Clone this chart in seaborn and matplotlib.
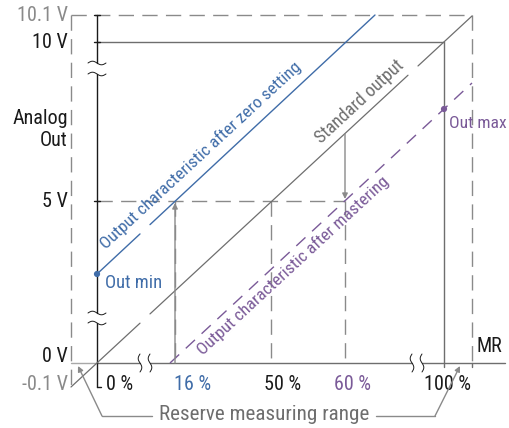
import numpy as np
import pandas as pd
import matplotlib
matplotlib.use("Agg")
import matplotlib.pyplot as plt
import seaborn as sns
from matplotlib import font_manager

# ---- drawing data (schematic coordinates, in pixels of the 509x428 sheet) ----
# vertical axis levels
volt_labels = ['10.1 V', '10 V', '5 V', '0 V', '-0.1 V']
volt_y = [15, 42, 201, 363, 387]
volt_label_y = [15, 42, 201, 356, 384]
volt_colors = ['#8a8a8a', '#1a1a1a', '#1a1a1a', '#1a1a1a', '#8a8a8a']

# horizontal axis (measuring range) marks
pct_labels = ['0 %', '16 %', '50 %', '60 %', '100 %']
pct_x = [97, 175, 271, 345, 444]
pct_label_x = [120, 193, 283, 353, 448]
pct_colors = ['#1a1a1a', '#3f6ca8', '#1a1a1a', '#7a5a98', '#1a1a1a']

x_left, x_right = 71, 472       # reserve range limits
y_top = 15
x_axis_end = 505
x_breaks = [(140, 150), (412, 422)]
y_breaks = [(63, 74), (313, 323)]

# output characteristics: two points each (start, end)
std_x, std_y = [71, 472], [387, 16]
zero_x, zero_y = [97, 375], [274, 15]
mast_x, mast_y = [170, 472], [363, 83]
std_gaps = [(140, 150), (408, 418)]
zero_gaps = [(140, 150)]

out_min = (97, 274)
out_max = (444, 109)

BLUE = '#3f6ca8'
PURPLE = '#7a5a98'
GRAY = '#8a8a8a'
DGRAY = '#6e6e6e'
BLACK = '#1a1a1a'


def pick_font(cands):
    for c in cands:
        try:
            font_manager.findfont(c, fallback_to_default=False)
            return c
        except Exception:
            continue
    return 'DejaVu Sans'


def split_line(xs, ys, gaps):
    # break a straight line into pieces that skip the axis-break bands
    x0, x1 = xs
    y0, y1 = ys
    m = (y1 - y0) / (x1 - x0)
    edges = [x0]
    for a, b in gaps:
        edges += [a, b]
    edges.append(x1)
    segs = []
    for i in range(0, len(edges), 2):
        a, b = edges[i], edges[i + 1]
        segs.append(([a, b], [y0 + m * (a - x0), y0 + m * (b - x0)]))
    return segs


def break_mark(ax, x, y, vertical):
    t = np.linspace(-1, 1, 30)
    w = 1.8 * np.sin(t * np.pi)
    if vertical:
        ax.plot(x + w, y + t * 9, color=BLACK, lw=0.7)
    else:
        ax.plot(x + t * 9, y + w, color=BLACK, lw=0.7)


def main():
    sns.set_theme(style='white')
    font = pick_font(['Liberation Sans Narrow', 'Roboto Condensed', 'Liberation Sans'])
    plt.rcParams['font.family'] = [font, 'DejaVu Sans']

    fig = plt.figure(figsize=(5.09, 4.28), dpi=100)
    ax = fig.add_axes([0, 0, 1, 1])
    ax.set_xlim(0, 509)
    ax.set_ylim(428, 0)
    ax.axis('off')

    dash = dict(color=GRAY, lw=1.0, dashes=(11, 6))

    # reserve range frame (dashed)
    ax.plot([x_left, x_left], [y_top, volt_y[4]], **dash)
    ax.plot([x_left, x_right], [y_top, y_top], **dash)
    ax.plot([x_right, x_right], [y_top, volt_y[3]], **dash)

    # 10 V frame
    ax.plot([pct_x[0], pct_x[4]], [volt_y[1], volt_y[1]], color=DGRAY, lw=1.0)
    ax.plot([pct_x[4], pct_x[4]], [volt_y[1], volt_y[3] + 4], color=DGRAY, lw=1.0)
    ax.plot([x_right, x_right], [volt_y[3], volt_y[3] + 4], color=DGRAY, lw=1.0)

    # 5 V guide lines
    ax.plot([pct_x[0], pct_x[3]], [volt_y[2], volt_y[2]], **dash)
    for xv in pct_x[1:4]:
        ax.plot([xv, xv], [volt_y[2], volt_y[3]], **dash)

    # x axis with breaks (lighter inside the reserve range)
    ax.plot([x_left, pct_x[0]], [volt_y[3], volt_y[3]], color='#a8a8a8', lw=1.0)
    xs = [pct_x[0]] + [v for g in x_breaks for v in g] + [x_axis_end]
    for i in range(0, len(xs), 2):
        ax.plot([xs[i], xs[i + 1]], [volt_y[3], volt_y[3]], color=DGRAY, lw=1.0)
    for a, b in x_breaks:
        break_mark(ax, a, volt_y[3], True)
        break_mark(ax, b, volt_y[3], True)

    # y axis with breaks
    ys = [y_top] + [v for g in y_breaks for v in g] + [volt_y[4]]
    for i in range(0, len(ys), 2):
        ax.plot([pct_x[0], pct_x[0]], [ys[i], ys[i + 1]], color=BLACK, lw=1.0)
    for a, b in y_breaks:
        break_mark(ax, pct_x[0], a, False)
        break_mark(ax, pct_x[0], b, False)
    for yv in [volt_y[0], volt_y[1], volt_y[2]]:
        ax.plot([pct_x[0] - 3, pct_x[0] + 3], [yv, yv], color=BLACK, lw=1.0)
    ax.plot([pct_x[0], pct_x[0] + 4], [volt_y[4], volt_y[4]], color=BLACK, lw=1.0)

    # characteristics
    for sx, sy in split_line(std_x, std_y, std_gaps):
        sns.lineplot(x=sx, y=sy, ax=ax, color=DGRAY, lw=0.9, sort=False, estimator=None)
    for sx, sy in split_line(zero_x, zero_y, zero_gaps):
        sns.lineplot(x=sx, y=sy, ax=ax, color=BLUE, lw=1.0, sort=False, estimator=None)
    ax.plot(mast_x, mast_y, color=PURPLE, lw=1.0, dashes=(9, 6.5))

    pts = pd.DataFrame({'x': [out_min[0], out_max[0]], 'y': [out_min[1], out_max[1]],
                        'k': ['min', 'max']})
    sns.scatterplot(data=pts, x='x', y='y', hue='k', palette=[BLUE, PURPLE], s=20,
                    edgecolor='none', legend=False, ax=ax, zorder=5)

    # arrows 16 % and 60 %
    arr = dict(arrowstyle='-|>', color=GRAY, lw=1.0, mutation_scale=8, shrinkA=0, shrinkB=0)
    ax.annotate('', xy=(pct_x[1], volt_y[2] + 2), xytext=(pct_x[1], volt_y[3]), arrowprops=arr)
    ax.annotate('', xy=(pct_x[3], volt_y[2] - 2), xytext=(pct_x[3], 134), arrowprops=arr)

    fs = 14.5
    # vertical axis labels
    for lab, yy, c in zip(volt_labels, volt_label_y, volt_colors):
        ax.text(68, yy, lab, ha='right', va='center', fontsize=fs, color=c)
    ax.text(68, 118, 'Analog', ha='right', va='center', fontsize=fs, color=BLACK)
    ax.text(68, 141, 'Out', ha='right', va='center', fontsize=fs, color=BLACK)

    # horizontal axis labels
    for lab, xx, c in zip(pct_labels, pct_label_x, pct_colors):
        ax.text(xx, 384, lab, ha='center', va='center', fontsize=fs, color=c)
    ax.text(477, 347, 'MR', ha='left', va='center', fontsize=fs, color=BLACK)

    ax.text(105, 283, 'Out min', ha='left', va='center', fontsize=13.3, color=BLUE)
    ax.text(449, 123, 'Out max', ha='left', va='center', fontsize=12.6, color=PURPLE)

    ang = np.degrees(np.arctan((std_y[0] - std_y[1]) / (std_x[1] - std_x[0])))
    ax.text(201, 155, 'Output characteristic after zero setting', rotation=ang,
            rotation_mode='anchor', ha='center', va='center', fontsize=12.5, color=BLUE)
    ax.text(360, 102, 'Standard output', rotation=ang, rotation_mode='anchor',
            ha='center', va='center', fontsize=13, color=DGRAY)
    ax.text(293, 266, 'Output characteristic after mastering', rotation=ang,
            rotation_mode='anchor', ha='center', va='center', fontsize=12.5, color=PURPLE)

    # reserve measuring range callout
    ax.text(264, 415, 'Reserve measuring range', ha='center', va='center', fontsize=15.2,
            color=DGRAY)
    lead = dict(arrowstyle='-|>', color=GRAY, lw=1.0, mutation_scale=8, shrinkA=0, shrinkB=0)
    ax.plot([152, 102], [416, 416], color=GRAY, lw=1.0)
    ax.annotate('', xy=(78, 366), xytext=(102, 416), arrowprops=lead)
    ax.plot([376, 435], [416, 416], color=GRAY, lw=1.0)
    ax.annotate('', xy=(460, 366), xytext=(435, 416), arrowprops=lead)

    fig.savefig('out.png', dpi=100, facecolor='white')


if __name__ == "__main__":
    main()
